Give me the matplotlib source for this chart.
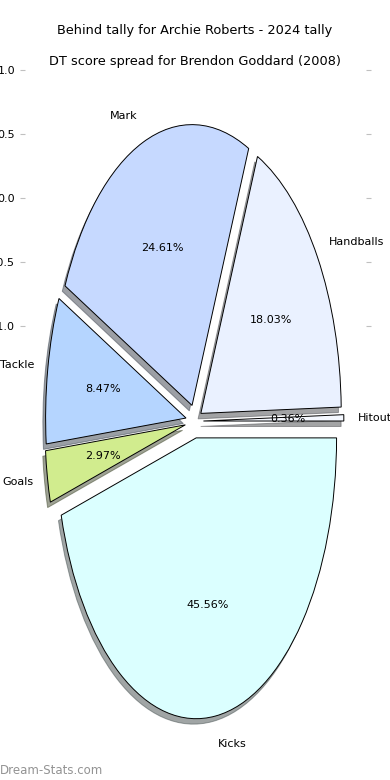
import matplotlib
matplotlib.use("Agg")
import matplotlib.pyplot as plt

# slice data, read counter-clockwise from 3 o'clock
labels = ["Hitout", "Handballs", "Mark", "Tackle", "Goals", "Kicks"]
shares = [0.36, 18.03, 24.61, 8.47, 2.97, 45.56]
colors = ["#f4f8ff", "#eaf1ff", "#c6d9ff", "#b5d5ff", "#d1ec8e", "#dbffff"]
explode = [0.06, 0.05, 0.06, 0.065, 0.07, 0.06]

# stray axis ticks left over on the canvas
grid_ticks = [-1.0, -0.5, 0.0, 0.5, 1.0]

fig = plt.figure(figsize=(3.9, 7.8), dpi=100)
rect = [0.05, 0.01, 0.9, 0.9]

# background axis carrying the light grey ticks
ax_bg = fig.add_axes(rect, zorder=0)
ax_bg.set_ylim(-4.48, 1.0)
ax_bg.set_yticks(grid_ticks)
ax_bg.set_xticks([])
for s in ax_bg.spines.values():
    s.set_visible(False)
ax_bg.tick_params(axis="y", direction="in", left=True, right=True,
                  labelleft=True, labelright=False, color="#c0c0c0",
                  labelsize=8, length=3.5, pad=3)
ax_bg.patch.set_visible(False)

ax = fig.add_axes(rect, zorder=1)
ax.patch.set_visible(False)
wedges, texts, autotexts = ax.pie(
    shares, labels=labels, colors=colors, explode=explode,
    autopct="%1.2f%%", startangle=0, counterclock=True,
    shadow={"ox": -0.014, "oy": -0.014},
    wedgeprops=dict(edgecolor="black", linewidth=0.7),
    textprops=dict(fontsize=8))
ax.set_aspect("auto")
ax.set_title("DT score spread for Brendon Goddard (2008)", fontsize=9.3, pad=4)

fig.suptitle("Behind tally for Archie Roberts - 2024 tally",
             fontsize=9.3, y=0.969, va="top")
fig.text(0.0, 0.004, "Dream-Stats.com", color="#939393", fontsize=8.5,
         ha="left", va="bottom")

fig.savefig("out.png", dpi=100)
plt.close(fig)
